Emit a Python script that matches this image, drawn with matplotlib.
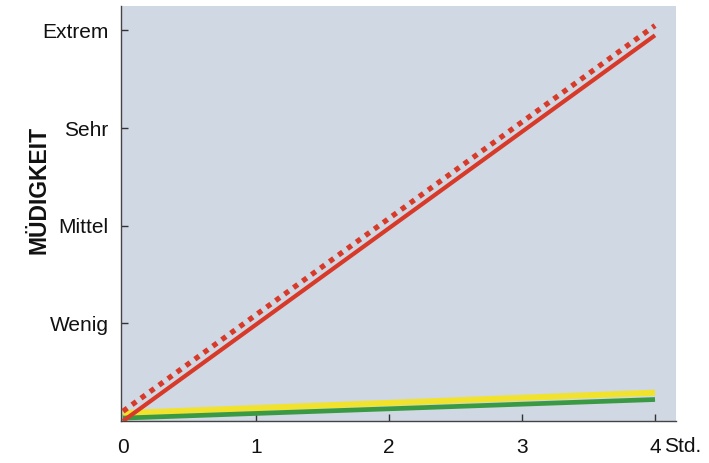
import matplotlib.pyplot as plt

plt.rcParams['font.family'] = ['Liberation Sans', 'DejaVu Sans']

# hours awake / driving
hours = [0, 4]

# tiredness level (0 = none, 4 = Extrem)
red_solid = [0.0, 3.95]
red_dotted = [0.1, 4.05]
yellow = [0.08, 0.29]
green = [0.03, 0.22]

y_ticks = [1, 2, 3, 4]
y_labels = ["Wenig", "Mittel", "Sehr", "Extrem"]
x_ticks = [0, 1, 2, 3, 4]
x_labels = ["0", "1", "2", "3", "4"]

fig = plt.figure(figsize=(7.09, 4.63), dpi=100)
ax = fig.add_axes([0.1707, 0.0907, 0.7828, 0.8963])
ax.set_facecolor("#d0d8e4")

ax.plot(hours, yellow, color="#f1e22e", lw=4.4, solid_capstyle="butt", zorder=2)
ax.plot(hours, green, color="#3a9a44", lw=3.4, solid_capstyle="butt", zorder=3)
ax.plot(hours, red_dotted, color="#d83a2a", lw=3.8, linestyle=(0, (1.0, 1.1)),
        dash_capstyle="butt", zorder=4)
ax.plot(hours, red_solid, color="#d83a2a", lw=3.0, solid_capstyle="butt", zorder=5)

ax.set_xlim(-0.015, 4.158)
ax.set_ylim(0, 4.25)

ax.set_xticks(x_ticks)
ax.set_xticklabels(x_labels)
ax.set_yticks(y_ticks)
ax.set_yticklabels(y_labels)

ax.tick_params(axis="both", direction="in", length=5, width=1, colors="#333333",
               labelsize=15, labelcolor="#111111")
ax.tick_params(axis="x", pad=12)
ax.tick_params(axis="y", pad=9)

for side in ["top", "right"]:
    ax.spines[side].set_visible(False)
for side in ["left", "bottom"]:
    ax.spines[side].set_color("#444444")
    ax.spines[side].set_linewidth(1)

fig.text(664 / 709, 1 - 447 / 463, "Std.", fontsize=15, va="center", ha="left",
         color="#111111")
fig.text(39 / 709, 1 - 190 / 463, "MÜDIGKEIT", fontsize=16.5, fontweight="bold",
         rotation=90, va="center", ha="center", color="#111111")

fig.savefig("out.png", dpi=100)
